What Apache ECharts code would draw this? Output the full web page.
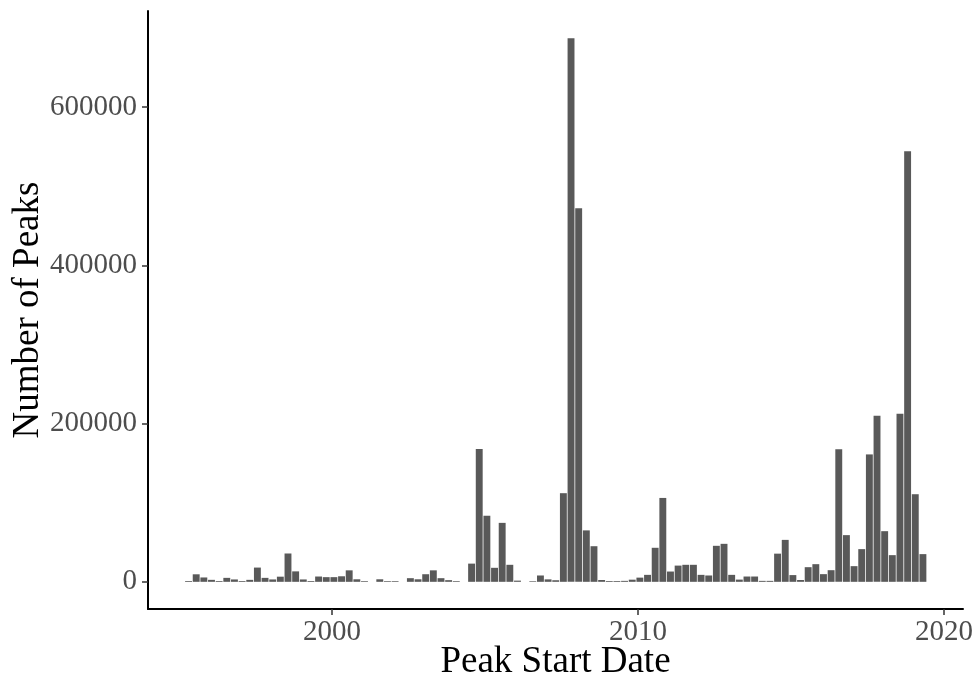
<!DOCTYPE html>
<html>
<head>
<meta charset="utf-8">
<script src="https://cdn.jsdelivr.net/npm/echarts@6/dist/echarts.min.js"></script>
<style>html,body{margin:0;padding:0;background:#fff}#c{width:979px;height:682px}</style>
</head>
<body>
<div id="c"></div>
<script>
// Quarterly bins (1995 Q2 .. 2019 Q2)
const quarters = [
 '1995-Q2','1995-Q3','1995-Q4',
 '1996-Q1','1996-Q2','1996-Q3','1996-Q4',
 '1997-Q1','1997-Q2','1997-Q3','1997-Q4',
 '1998-Q1','1998-Q2','1998-Q3','1998-Q4',
 '1999-Q1','1999-Q2','1999-Q3','1999-Q4',
 '2000-Q1','2000-Q2','2000-Q3','2000-Q4',
 '2001-Q1','2001-Q2','2001-Q3','2001-Q4',
 '2002-Q1','2002-Q2','2002-Q3','2002-Q4',
 '2003-Q1','2003-Q2','2003-Q3','2003-Q4',
 '2004-Q1','2004-Q2','2004-Q3','2004-Q4',
 '2005-Q1','2005-Q2','2005-Q3','2005-Q4',
 '2006-Q1','2006-Q2','2006-Q3','2006-Q4',
 '2007-Q1','2007-Q2','2007-Q3','2007-Q4',
 '2008-Q1','2008-Q2','2008-Q3','2008-Q4',
 '2009-Q1','2009-Q2','2009-Q3','2009-Q4',
 '2010-Q1','2010-Q2','2010-Q3','2010-Q4',
 '2011-Q1','2011-Q2','2011-Q3','2011-Q4',
 '2012-Q1','2012-Q2','2012-Q3','2012-Q4',
 '2013-Q1','2013-Q2','2013-Q3','2013-Q4',
 '2014-Q1','2014-Q2','2014-Q3','2014-Q4',
 '2015-Q1','2015-Q2','2015-Q3','2015-Q4',
 '2016-Q1','2016-Q2','2016-Q3','2016-Q4',
 '2017-Q1','2017-Q2','2017-Q3','2017-Q4',
 '2018-Q1','2018-Q2','2018-Q3','2018-Q4',
 '2019-Q1','2019-Q2'
];
const peaks = [
 1000, 9500, 5500,
 2500, 1000, 5000, 3000,
 1000, 2500, 18000, 5000,
 3000, 6500, 35800, 13200,
 3000, 1000, 6700, 5900,
 5900, 7000, 14500, 3200,
 900, 0, 3200, 900,
 900, 0, 4600, 3200,
 9600, 14500, 4600, 2100,
 900, 0, 23000, 168000,
 83500, 17700, 74500, 21500,
 1500, 0, 800, 8000,
 3100, 2000, 112000, 687000,
 472000, 65000, 45000, 2300,
 1000, 1000, 1200, 2700,
 5300, 8800, 43000, 106000,
 13000, 20500, 21500, 21500,
 8800, 8000, 45500, 48000,
 8800, 2800, 6700, 6700,
 1200, 1200, 35600, 53000,
 8500, 2300, 18500, 22300,
 9700, 14700, 167500, 59000,
 19800, 41300, 161000, 210000,
 64000, 33700, 212500, 544000,
 110700, 35000
];
const xTicks = [2000, 2010, 2020];
const yTicks = [0, 200000, 400000, 600000];

function quarterToYear(q) {
  const [y, qq] = q.split('-Q');
  return Number(y) + (Number(qq) - 1) / 4 + 0.06;
}
const data = quarters.map((q, i) => [quarterToYear(q), peaks[i]]);

const font = 'Liberation Serif';
const chart = echarts.init(document.getElementById('c'), null, {renderer: 'canvas'});
chart.setOption({
  animation: false,
  backgroundColor: '#ffffff',
  grid: {left: 148, right: 16, top: 11, bottom: 73, containLabel: false, outerBoundsMode: 'none'},
  xAxis: {
    type: 'value',
    min: 1993.985,
    max: 2020.62,
    name: 'Peak Start Date',
    nameLocation: 'middle',
    nameMoveOverlap: false,
    nameGap: 35,
    nameTextStyle: {fontFamily: font, fontSize: 37, color: '#000'},
    axisLine: {show: true, onZero: false, lineStyle: {color: '#000', width: 2}},
    axisTick: {show: true, length: 6, lineStyle: {color: '#333', width: 1.5}, customValues: xTicks},
    axisLabel: {show: true, customValues: xTicks, margin: 9, fontFamily: font, fontSize: 29, color: '#4D4D4D',
      formatter: v => String(v)},
    splitLine: {show: false}
  },
  yAxis: {
    type: 'value',
    min: -34350,
    max: 721350,
    name: 'Number of Peaks',
    nameLocation: 'middle',
    nameMoveOverlap: false,
    nameGap: 101,
    nameTextStyle: {fontFamily: font, fontSize: 37, color: '#000'},
    axisLine: {show: true, onZero: false, lineStyle: {color: '#000', width: 2}},
    axisTick: {show: true, length: 6, lineStyle: {color: '#333', width: 1.5}, customValues: yTicks},
    axisLabel: {show: true, customValues: yTicks, margin: 11, fontFamily: font, fontSize: 29, color: '#4D4D4D',
      formatter: v => String(v)},
    splitLine: {show: false}
  },
  series: [{
    type: 'bar',
    data: data,
    barWidth: 6.9,
    itemStyle: {color: '#595959'},
    silent: true
  }]
});
</script>
</body>
</html>
